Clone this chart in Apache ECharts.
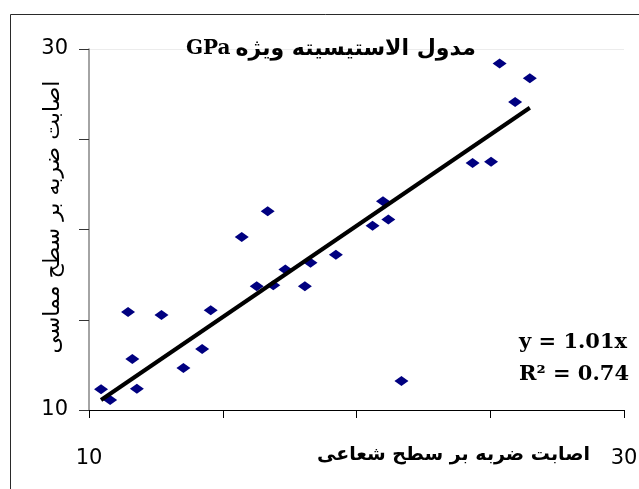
<!DOCTYPE html>
<html>
<head>
<meta charset="utf-8">
<script src="https://cdn.jsdelivr.net/npm/echarts@6/dist/echarts.min.js"></script>
<style>
  html, body { margin: 0; padding: 0; background: #fff; }
  #chart { width: 639px; height: 489px; }
</style>
</head>
<body>
<div id="chart"></div>
<script>
// Radial-surface hit (x) versus tangential-surface hit (y), specific modulus in GPa
const radialHit = [10.45, 10.79, 11.46, 11.62, 11.79, 12.71, 13.53, 14.23, 14.55, 15.71,
                   16.27, 16.68, 16.89, 17.34, 18.07, 18.28, 19.23, 20.60, 20.99, 21.19,
                   21.68, 24.34, 25.03, 25.35, 25.93, 26.48];
const tangentialHit = [11.15, 10.55, 15.43, 12.83, 11.18, 15.26, 12.33, 13.38, 15.52, 19.58,
                       16.85, 21.01, 16.91, 17.79, 16.85, 18.16, 18.60, 20.21, 21.56, 20.56,
                       11.61, 23.68, 23.76, 29.19, 27.06, 28.38];

// Trendline through the origin and its fit statistic
const slope = 1.01;
const rSquared = 0.74;

// Axis range and the tick values that carry a label
const axisMin = 10, axisMax = 30, axisStep = 5;
const labelledTicks = [10, 30];

const titleText = 'مدول الاستیسیته ویژه';
const titleUnit = 'GPa';
const xName = 'اصابت ضربه بر سطح شعاعی';
const yName = 'اصابت ضربه بر سطح مماسی';

const points = radialHit.map((x, i) => [x, tangentialHit[i]]);
const xLo = Math.min(...radialHit), xHi = Math.max(...radialHit);
const trend = [[xLo, slope * xLo], [xHi, slope * xHi]];

const tickFormatter = v => (labelledTicks.indexOf(v) >= 0 ? String(v) : '');
const arabicFont = '"DejaVu Sans", sans-serif';
const serifFont = '"DejaVu Serif", serif';

const chart = echarts.init(document.getElementById('chart'), null, { renderer: 'canvas' });
chart.setOption({
  backgroundColor: '#ffffff',
  animation: false,
  title: {
    text: '{u|' + titleUnit + '} {t|' + titleText + '}',
    left: 181,
    top: 33,
    textStyle: {
      rich: {
        u: { fontFamily: serifFont, fontWeight: 'bold', fontSize: 20, color: '#000' },
        t: { fontFamily: arabicFont, fontWeight: 'bold', fontSize: 22, color: '#000' }
      }
    }
  },
  graphic: [
    {
      type: 'rect',
      z: -10,
      shape: { x: 10.5, y: 14.5, width: 700, height: 600 },
      style: { fill: 'none', stroke: '#2a2a2a', lineWidth: 1 }
    },
    {
      // fitted equation of the trendline
      type: 'text',
      right: 10,
      top: 327,
      style: {
        text: 'y = ' + slope.toFixed(2) + 'x\nR\u00B2 = ' + rSquared.toFixed(2),
        align: 'right',
        fontFamily: serifFont,
        fontWeight: 'bold',
        fontSize: 21,
        lineHeight: 32,
        fill: '#000'
      }
    }
  ],
  grid: { left: 89, right: 15, top: 49, bottom: 79, outerBoundsMode: 'none' },
  xAxis: {
    type: 'value',
    min: axisMin,
    max: axisMax,
    interval: axisStep,
    name: xName,
    nameLocation: 'middle',
    nameMoveOverlap: false,
    nameGap: 36,
    nameTextStyle: {
      fontFamily: arabicFont,
      fontWeight: 'bold',
      fontSize: 19,
      color: '#000',
      padding: [0, 0, 0, 194]
    },
    axisLine: { lineStyle: { color: '#000', width: 1 } },
    axisTick: { show: true, inside: false, length: 8, lineStyle: { color: '#000' } },
    axisLabel: {
      formatter: tickFormatter,
      margin: 38,
      fontFamily: '"DejaVu Sans", sans-serif',
      fontSize: 21,
      color: '#000'
    },
    splitLine: { show: false }
  },
  yAxis: {
    type: 'value',
    min: axisMin,
    max: axisMax,
    interval: axisStep,
    name: yName,
    nameLocation: 'middle',
    nameMoveOverlap: false,
    nameRotate: 90,
    nameGap: 25,
    nameTextStyle: {
      fontFamily: arabicFont,
      fontSize: 22,
      color: '#000',
      padding: [0, 0, 0, 25]
    },
    axisLine: { show: true, lineStyle: { color: '#868686', width: 1.5 } },
    axisTick: { show: true, inside: false, length: 10, lineStyle: { color: '#333' } },
    axisLabel: {
      formatter: tickFormatter,
      margin: 21,
      fontFamily: '"DejaVu Sans", sans-serif',
      fontSize: 21,
      color: '#000',
      padding: [0, 0, 5, 0]
    },
    splitLine: {
      show: true,
      showMinLine: false,
      lineStyle: { color: ['rgba(0,0,0,0)', 'rgba(0,0,0,0)', 'rgba(0,0,0,0)', '#ececec'], width: 1 }
    }
  },
  series: [
    {
      type: 'scatter',
      data: points,
      symbol: 'diamond',
      symbolSize: [14, 10],
      itemStyle: { color: '#000080', opacity: 1 },
      z: 3
    },
    {
      type: 'line',
      data: trend,
      symbol: 'none',
      lineStyle: { color: '#000', width: 4 },
      z: 4
    }
  ]
});
</script>
</body>
</html>
